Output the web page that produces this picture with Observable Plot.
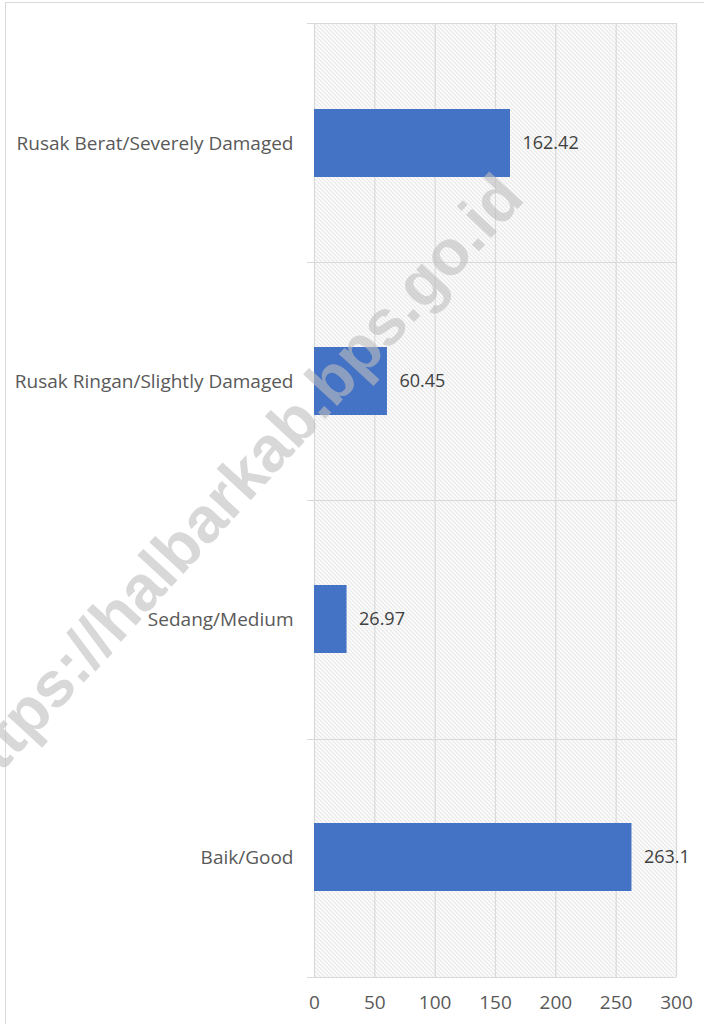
<!DOCTYPE html>
<html><head><meta charset="utf-8">
<script src="https://cdn.jsdelivr.net/npm/d3@7"></script>
<script src="https://cdn.jsdelivr.net/npm/@observablehq/plot@0.6"></script>
<style>
body{margin:0;background:#fff;}
#wrap{position:relative;width:704px;height:1024px;overflow:hidden;background:#fff;}
#border{position:absolute;left:5px;top:2px;width:760px;height:1100px;border:1px solid #d9d9d9;pointer-events:none;}
#wm{position:absolute;left:234px;top:486px;width:0;height:0;pointer-events:none;}
#wm span{position:absolute;left:0;top:0;transform:translate(-50%,-50%) rotate(-47.5deg);white-space:nowrap;
 font-family:"Liberation Sans",Arial,sans-serif;font-weight:bold;font-size:64px;color:rgba(190,190,190,0.6);}
#chart{position:absolute;left:0;top:0;}
</style>
</head><body>
<div id="wrap"><div id="border"></div><div id="chart"></div><div id="wm"><span>https://halbarkab.bps.go.id</span></div></div>
<script>
const categories = ["Rusak Berat/Severely Damaged","Rusak Ringan/Slightly Damaged","Sedang/Medium","Baik/Good"];
const values = [162.42, 60.45, 26.97, 263.1];
const xTicks = [0, 50, 100, 150, 200, 250, 300];
const xDomain = [0, 300];

const data = categories.map((c, i) => ({cat: c, value: values[i]}));

function bandBoundaries(index, scales, vals, dims) {
  const top = dims.marginTop, bottom = dims.height - dims.marginBottom;
  const n = categories.length;
  const x1 = dims.marginLeft - 7, x2 = dims.width - dims.marginRight;
  const g = d3.create("svg:g");
  for (let k = 0; k <= n; k++) {
    const y = Math.round(top + k * (bottom - top) / n) + 0.5;
    g.append("line").attr("x1", x1).attr("x2", x2).attr("y1", y).attr("y2", y)
      .attr("stroke", "#d9d9d9").attr("stroke-width", 1.2);
  }
  return g.node();
}

const chart = Plot.plot({
  width: 704, height: 1024,
  marginLeft: 314, marginRight: 28, marginTop: 23, marginBottom: 47,
  style: {fontFamily: "'Open Sans', sans-serif", fontSize: "19px", color: "#595959", background: "transparent"},
  x: {domain: xDomain, ticks: xTicks, label: null},
  y: {domain: categories, paddingInner: 0.715, paddingOuter: 0.3575, label: null},
  marks: [
    Plot.frame({fill: "url(#hatch)", stroke: null}),
    Plot.gridX(xTicks, {stroke: "#d9d9d9", strokeOpacity: 1, strokeWidth: 1.2}),
    bandBoundaries,
    Plot.barX(data, {x: "value", y: "cat", fill: "#4472C4"}),
    Plot.text(data, {x: "value", y: "cat", text: d => String(d.value), textAnchor: "start", dx: 12, fill: "#404040", fontSize: 18}),
    Plot.axisX(xTicks, {tickSize: 0, tickPadding: 18, label: null, fill: "#595959", fontSize: 19}),
    Plot.axisY({tickSize: 0, tickPadding: 21, label: null, fill: "#595959", fontSize: 19})
  ]
});

const svg = d3.select(chart);
const defs = svg.insert("defs", ":first-child");
const pat = defs.append("pattern").attr("id", "hatch").attr("patternUnits", "userSpaceOnUse")
  .attr("width", 4).attr("height", 4);
pat.append("path").attr("d", "M-1,-1L5,5M-1,3L1,5M3,-1L5,1")
  .attr("stroke", "#cfcfcf").attr("stroke-width", 0.9).attr("fill", "none");

document.getElementById("chart").appendChild(chart);
</script>
</body></html>
